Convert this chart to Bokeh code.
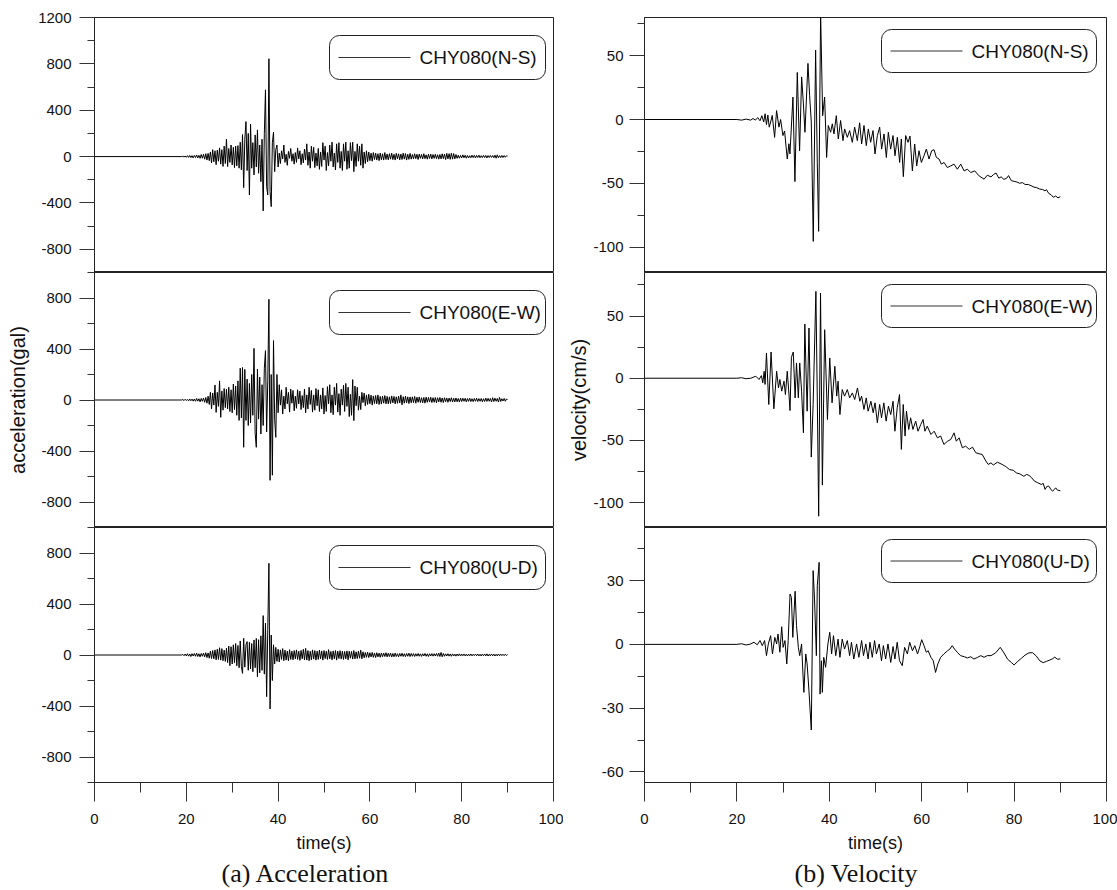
from bokeh.plotting import figure
from bokeh.layouts import row, column
from bokeh.models import (FixedTicker, Range1d, BoxAnnotation, Label, Title,
                          PrintfTickFormatter)
from bokeh.embed import file_html
from bokeh.resources import INLINE

# ---------------------------------------------------------------- data
# acceleration records (gal), sampled every ACC_DT seconds from ACC_T0
ACC_T0 = 19.0
ACC_DT = 0.25

acc_ns = [
    0, 3, -4, 5, -6, 8, -7, 10, -9, 8, -12, 10, -8, 14, -12, 11, -15, 18, -14, 20,
    -22, 25, -30, 28, -35, 40, -55, 60, -45, 50, -70, 55, -40, 75, -65, 60, -85, 90, -60, 150,
    -86, 70, -50, 100, -72, 80, -95, 90, -80, 95, -100, 124, -115, 190, -268, 150, 302, -120, 200, -331,
    279, -100, 120, -158, 187, -90, 230, -144, 100, -216, 150, -469, 200, 576, -259, -331, 844, -300, -432, 120,
    210, -130, 60, 100, -90, 30, -60, 50, -20, 100, -50, 20, -75, 45, -15, 70, -40, 25, -65, 35,
    -50, 75, -20, 50, -70, 25, -55, 65, -30, 110, -75, 40, -100, 90, -40, 80, -95, 30, -80, 70,
    -110, 40, -85, 120, -30, 90, -120, 35, -80, 100, -40, 125, -90, 30, -115, 110, -50, 120, -100, 45,
    -120, 110, -40, 125, -110, 50, -100, 120, -35, 125, -130, 45, -85, 110, -40, 90, -75, 110, -100, 40,
    -60, 50, -45, 40, -35, 30, -40, 35, -25, 30, -30, 25, -35, 30, -28, 24, -30, 35, -25, 22,
    -28, 25, -22, 30, -26, 20, -30, 28, -20, 24, -28, 22, -25, 30, -22, 26, -30, 20, -24, 28,
    -22, 18, -20, 24, -18, 20, -25, 22, -15, 18, -20, 25, -18, 15, -22, 20, -16, 22, -20, 18,
    -15, 20, -18, 16, -22, 18, -20, 24, -18, 22, -26, 28, -20, 25, -24, 30, -22, 26, -20, 18,
    -15, 12, -14, 10, -12, 15, -10, 12, -14, 10, -12, 8, -10, 12, -9, 11, -12, 10, -8, 12,
    -10, 8, -9, 11, -8, 10, -12, 9, -8, 10, -7, 9, -10, 12, -14, 15, -10, 8, -9, 10,
    -8, 9, -6, 7, 5,
]

acc_ew = [
    0, 4, -5, 6, -4, 5, -7, 8, -6, 7, -9, 8, -10, 12, -9, 10, -14, 12, -10, 15,
    -18, 20, -25, 30, -35, 60, -70, 55, -40, 118, -97, 60, -50, 150, -136, 70, -80, 90, -60, 85,
    -70, 100, -90, 80, -100, 125, -75, 110, -120, 150, -160, 250, -140, 255, -371, 240, -160, 164, -200, 130,
    -180, 200, -120, 405, -260, -371, 243, -150, 180, -267, 120, -200, 250, 387, -250, 150, 790, -630, 200, -590,
    466, -150, -293, 200, -100, 120, -40, 80, -110, 30, -70, 100, -30, 60, -95, 86, -25, 75, -85, 30,
    -65, 80, -30, 70, -75, 35, -60, 85, -100, 40, -70, 100, -35, 75, -95, 40, -80, 90, -45, 80,
    -90, 40, -70, 95, -110, 35, -90, 105, -30, 120, -100, 40, -115, 100, -40, 130, -95, 50, -120, 85,
    -40, 115, -90, 130, -50, 100, -130, 45, -120, 160, -162, 110, -45, 100, -80, 30, -75, 60, -20, 55,
    -45, 40, -35, 45, -30, 38, -40, 32, -28, 35, -30, 40, -35, 28, -32, 30, -25, 35, -30, 28,
    -30, 25, -28, 32, -22, 28, -30, 25, -26, 30, -24, 40, -38, 26, -25, 30, -22, 25, -28, 24,
    -22, 25, -20, 28, -25, 22, -18, 24, -20, 18, -22, 20, -25, 22, -18, 20, -16, 22, -20, 18,
    -18, 20, -22, 18, -15, 20, -18, 16, -20, 18, -14, 16, -18, 15, -12, 18, -16, 14, -15, 16,
    -14, 12, -16, 15, -12, 14, -10, 13, -15, 12, -11, 14, -12, 10, -13, 12, -10, 14, -12, 11,
    -10, 12, -14, 10, -12, 15, -11, 13, -10, 12, -15, 18, -12, 14, -10, 12, -16, 20, -12, 10,
    -8, 12, -10, 8, 4,
]

acc_ud = [
    0, 5, -6, 8, -7, 10, -9, 8, -12, 10, -8, 12, -10, 14, -12, 10, -15, 12, -10, 15,
    -14, 18, -20, 16, -25, 30, -28, 35, -30, 40, -38, 45, -35, 57, -40, 50, -45, 38, -50, 55,
    -60, 70, -84, 65, -70, 80, -60, 90, -85, 75, -100, 110, -90, -144, 131, -95, 80, 105, -120, 100,
    -110, 90, -131, 118, -100, 130, -170, 120, -140, 150, -120, 309, -150, 250, -327, 200, 719, -423, 157, -200,
    80, -70, 60, -50, 45, -55, 40, -35, 50, -45, 38, -40, 30, -45, 42, -35, 30, -38, 35, -30,
    40, -35, 30, -42, 36, -30, 45, -38, 52, -40, 35, -45, 30, -38, 40, -32, 35, -40, 30, -35,
    38, -30, 32, -40, 35, -28, 30, -35, 42, -30, 28, -38, 32, -30, 35, -40, 30, -28, 34, -32,
    30, -35, 28, -30, 32, -38, 30, -25, 28, -32, 35, -30, 25, -28, 30, -25, 38, -30, 25, -22,
    20, -18, 22, -20, 18, -15, 20, -18, 16, -20, 18, -15, 14, -18, 16, -14, 15, -12, 18, -15,
    14, -12, 15, -16, 12, -14, 15, -12, 10, -14, 12, -10, 14, -12, 10, -13, 12, -10, 14, -12,
    12, -10, 11, -12, 10, -9, 12, -10, 9, -11, 10, -8, 12, -10, 9, -12, 10, -8, 11, -9,
    10, -8, 12, -10, 15, -12, 20, -14, 12, -10, 9, -8, 10, -9, 8, -10, 9, -8, 7, -9,
    8, -7, 9, -8, 7, -6, 8, -7, 6, -8, 7, -6, 8, -7, 6, -5, 7, -6, 8, -7,
    6, -8, 7, -6, 8, -7, 9, -8, 6, -7, 8, -6, 7, -8, 6, -7, 8, -6, 7, -5,
    6, -5, 7, -4, 3,
]

# velocity records (cm/s): turning points (time, value)
vel_ns_t = [0, 20, 21, 22, 23, 23.5, 24, 24.5, 25, 25.4, 25.8, 26.1, 26.4, 26.7, 27.0, 27.3,
            27.65, 28.16, 28.59, 29.10, 29.46, 29.96, 30.32, 30.90, 31.26, 31.48,
            32.13, 32.56, 33.07, 33.57, 34.01, 34.37, 34.73, 35.38, 35.74, 36.10,
            36.53, 37.04, 37.40, 37.69, 38.12, 38.56, 38.99, 39.42, 39.78, 40.29,
            40.65, 41.01, 41.52, 41.95, 42.45, 42.96, 43.32, 43.90, 44.40, 44.98,
            45.49, 46.06, 46.57, 47.0, 47.51, 48.01, 48.45, 48.95, 49.46, 49.89,
            50.40, 50.90, 51.33, 51.84, 52.35, 52.78, 53.28, 53.79, 54.22, 54.73,
            55.23, 55.59, 56.03, 56.53, 57.04, 57.47, 57.98, 58.48, 58.92, 59.42,
            59.93, 60.50, 61.01, 61.59, 62.16, 62.67, 63.18, 63.75, 64.26, 64.84,
            65.56, 66.28, 67.0, 67.72, 68.45, 69.17, 69.89, 70.61, 71.48, 72.42,
            73.5, 74.2, 75.0, 75.6, 76.1, 76.7, 77.2, 77.8, 78.4, 78.8,
            79.4, 80.0, 80.6, 81.2, 81.8, 82.4, 83.1, 83.7, 84.3, 84.9,
            85.5, 86.2, 86.7, 87.0, 87.5, 88.0, 88.5, 89.0, 89.5, 90.0]
vel_ns = [0, 0, -0.5, 0.3, -0.5, 0.8, -0.5, 1.5, -1, 3, -2, 4.5, -4, 3.5, -6, -2,
          3.2, -14, 7, -6, 0, -12.6, -9, -31, -19, -27,
          17.6, -48.7, 36.9, -24.5, 33.4, 13.7, -10, 44, 19, -2,
          -95.6, 54.5, -34, -87.7, 84, 3, 17.6, -29.8, -4.7, -10,
          -3.4, -11.3, 3, -15.3, -0.8, -16.6, -7.4, -14, -8.7, -17.9,
          -6, -16.6, -2.6, -19.2, -4.7, -20.5, -7.4, -17.9, -8.7, -27,
          -12.6, -6, -23.2, -11.3, -29.8, -10, -23.2, -12.6, -28.4, -14,
          -33.7, -15.3, -44.8, -12.6, -17.9, -13, -40.3, -19.2, -36.4, -24.5,
          -33.7, -28.4, -23.2, -31, -24.5, -23.7, -29.8, -31, -35, -33.7,
          -37.7, -36.4, -35, -39, -35, -40.3, -39, -41.6, -40.3, -44.2,
          -46.8, -43.7, -45, -43, -42, -46, -45, -47, -46, -44,
          -48, -48.5, -49, -50, -49.5, -51, -51, -52, -53, -53.5,
          -54.5, -55, -56, -55, -58, -59, -61, -60, -61.5, -60.5]

vel_ew_t = [0, 20, 21, 22, 23.0, 24.1, 24.8, 25.3, 25.6, 25.9,
            26.1, 26.4, 26.9, 27.4, 28.0, 28.6, 29.0, 29.3, 29.7, 30.2,
            30.5, 30.9, 31.3, 31.5, 31.8, 32.2, 32.6, 32.9, 33.3, 33.6,
            34.0, 34.4, 34.7, 35.2, 35.6, 36.1, 36.5, 37.1, 37.4, 37.7,
            38.1, 38.5, 39.0, 39.6, 40.1, 40.6, 41.2, 41.6, 41.9, 42.3,
            42.8, 43.3, 43.9, 44.4, 45.0, 45.5, 46.1, 46.6, 47.0, 47.5,
            48.0, 48.4, 49.0, 49.5, 49.9, 50.4, 50.9, 51.3, 51.8, 52.3,
            52.8, 53.3, 53.8, 54.2, 54.7, 55.2, 55.6, 56.0, 56.4, 56.7,
            57.2, 57.6, 58.1, 58.7, 59.2, 59.8, 60.3, 60.7, 61.2, 62.0,
            62.7, 63.4, 64.1, 64.8, 65.6, 66.3, 67.0, 67.5, 68.1, 68.8,
            69.5, 70.3, 71.0, 71.7, 72.4, 73.1, 73.9, 74.4, 75.0, 75.5,
            76.4, 77.4, 78.2, 79.0, 79.8, 80.5, 81.3, 82.1, 82.7, 83.2,
            83.8, 84.4, 85.1, 85.9, 86.3, 86.7, 87.1, 87.5, 87.9, 88.3,
            88.7, 89.0, 89.4, 89.7, 90.0]
vel_ew = [0, 0, 0.4, -0.4, 0, 1.6, -1, 2.1, -3.7, 5.6,
          -5, 20.3, -21.1, 21.1, -24.6, 5.6, -7.8, -1, -10.4, -2.4,
          -13.1, 5.6, -14.4, -26, 16.8, 21.1, -15.8, 12.3, -15.8, 12.3,
          -10.4, -43.9, 43.6, -26.5, 40.4, -63.4, -21.1, 69.8, -15.8, -110.9,
          68.5, -85.9, 39, -33.2, 16.3, -19.8, 9.6, -14.4, -2.4, -29.2,
          -9.1, -14.4, -9.1, -15.8, -11.8, -17.1, -7.8, -18.5, -14.4, -25.1,
          -15.8, -26.5, -18.5, -27.8, -19.8, -35.8, -21.1, -31.8, -19.8, -34.5,
          -22.5, -29.2, -18.5, -42.6, -23.8, -13.1, -57.2, -21.1, -46.5, -26.5,
          -41.2, -31.8, -41.2, -34.5, -42.6, -37.2, -33.2, -42.6, -38.5, -45.2,
          -42.6, -47.9, -46.5, -53.2, -50.6, -49.2, -43.9, -50.6, -47.9, -55.9,
          -54.6, -57.2, -55.4, -59.9, -60.7, -61.3, -66.6, -69.3, -68, -69.8,
          -67.5, -69.3, -71, -73.4, -74, -76.1, -77, -78.8, -77.4, -78,
          -80, -82.7, -84, -85.4, -84.5, -89.4, -87, -86.7, -89, -90.8,
          -89.5, -88.1, -90, -90.2, -90.5]

vel_ud_t = [0, 20, 21, 22, 23.0, 23.7, 24.4, 25.0, 25.5, 26.0,
            26.4, 26.8, 27.3, 27.7, 28.2, 28.6, 28.9, 29.3, 29.7, 30.0,
            30.4, 30.8, 31.1, 31.5, 31.8, 32.1, 32.6, 32.9, 33.3, 33.6,
            34.0, 34.3, 34.5, 34.9, 35.2, 35.6, 36.1, 36.5, 36.8, 37.2,
            37.4, 37.8, 38.0, 38.3, 38.5, 38.8, 39.2, 39.7, 40.1, 40.5,
            40.9, 41.4, 41.9, 42.3, 42.8, 43.3, 43.9, 44.4, 44.8, 45.3,
            45.9, 46.4, 47.0, 47.4, 47.9, 48.4, 48.8, 49.3, 49.8, 50.2,
            50.8, 51.3, 51.7, 52.2, 52.7, 53.3, 53.8, 54.2, 54.7, 55.2,
            55.8, 56.3, 56.9, 57.4, 58.0, 58.5, 59.1, 59.6, 60.0, 60.5,
            61.0, 61.4, 62.0, 62.5, 63.0, 63.5, 64.1, 64.8, 65.6, 66.1,
            66.6, 67.1, 67.7, 68.4, 69.2, 69.9, 70.6, 71.3, 72.1, 72.8,
            73.5, 74.2, 75.0, 76.0, 77.0, 77.8, 78.6, 79.4, 80.0, 80.8,
            81.6, 82.4, 83.2, 84.0, 84.8, 85.6, 86.3, 87.0, 87.6, 88.3,
            88.8, 89.4, 90.0]
vel_ud = [0, 0, 0.3, -0.3, 0.2, 1, -0.2, 1.8, -0.6, 1.8,
          -5.3, 0.2, 4.1, -4.5, 3.3, 0.2, 4.9, -3.7, 8.3, -1.4,
          1.8, -9.2, 1.8, 23.7, 22.1, 3.3, 25, 8.8, -1.4, -5.3,
          0.2, -14, -22.6, -4.5, -9.2, -21.9, -40.3, 34.7, 21.4, -5.3,
          27.6, 38.6, -23.4, -7.7, -22.6, -6.1, -10.8, 0.2, 5.7, -4.5,
          4.1, -5.3, 2.5, -6.1, 2.5, -2.2, 1.8, -5.3, 1, -6.9,
          0.2, -6.1, 1.8, -5.3, 0.2, -6.9, 1, -6.1, 1.8, -4.5,
          0.2, -7.7, -0.6, -6.9, 0.2, -8.5, -1, -6.9, 1, -7.7,
          -10, -1.4, -4.5, 1, -3, -0.6, -4.5, -1, 2.2, -0.6,
          -3.7, -3, -6.1, -7.7, -13.2, -9.2, -6.1, -4.5, -3, -2.2,
          -0.6, -2.2, -3.7, -5.3, -5.8, -6.4, -5.8, -6.9, -6.1, -5.3,
          -6.1, -5.3, -5.3, -4, -1.4, -4, -7, -8.5, -9.7, -8,
          -6.5, -5, -4, -3.9, -5.5, -7.8, -8.6, -8, -7.5, -6.8,
          -6, -7, -6.8]

station_labels = ["CHY080(N-S)", "CHY080(E-W)", "CHY080(U-D)"]

x_ticks = [0, 20, 40, 60, 80, 100]
x_minor = [10, 30, 50, 70, 90]

acc_ranges = [(-1000, 1200), (-1000, 1000), (-1000, 1000)]
acc_ticks = [[-800, -400, 0, 400, 800, 1200], [-800, -400, 0, 400, 800], [-800, -400, 0, 400, 800]]
acc_minor = [-1000, -600, -200, 200, 600, 1000]

vel_ranges = [(-120, 80), (-120, 85), (-65, 55)]
vel_ticks = [[-100, -50, 0, 50], [-100, -50, 0, 50], [-60, -30, 0, 30]]
vel_minor = [[-75, -25, 25, 75], [-75, -25, 25, 75], [-45, -15, 15, 45]]

# ---------------------------------------------------------------- layout
FONT = "Liberation Sans"
SERIF = "Liberation Serif"
FRAME_H = 255
TOP_PAD = 17
BOTTOM_PAD = 107
COLS = [
    dict(bl=94, fw=459, br=10, box_l=235, box_w=216, box_t=18, box_h=44,
         ylabel="acceleration(gal)", ylab_standoff=9, tick_standoff=8,
         caption="(a) Acceleration", cap_off=127),
    dict(bl=81, fw=462, br=11, box_l=237, box_w=215, box_t=12, box_h=43,
         ylabel="velocity(cm/s)", ylab_standoff=0, tick_standoff=6,
         caption="(b) Velocity", cap_off=150),
]


def panel(ci, ri, t, v, yr, ticks, minor, name):
    c = COLS[ci]
    top = TOP_PAD if ri == 0 else 0
    bottom = BOTTOM_PAD if ri == 2 else 0
    p = figure(width=c["bl"] + c["fw"] + c["br"], height=FRAME_H + top + bottom,
               x_range=Range1d(0, 100), y_range=Range1d(*yr),
               x_axis_location="below" if ri == 2 else None,
               output_backend="svg", toolbar_location=None,
               min_border_left=c["bl"], min_border_right=c["br"],
               min_border_top=top, min_border_bottom=bottom)
    p.xgrid.visible = False
    p.ygrid.visible = False
    p.outline_line_color = "#222222"
    p.outline_line_width = 1
    p.background_fill_color = "white"
    p.border_fill_color = "white"

    ya = p.yaxis[0]
    ya.ticker = FixedTicker(ticks=ticks, minor_ticks=minor)
    ya.formatter = PrintfTickFormatter(format="%d")
    ya.major_tick_out = 15
    ya.major_tick_in = 0
    ya.minor_tick_out = 7
    ya.minor_tick_in = 0
    ya.major_label_standoff = c["tick_standoff"]
    ya.major_label_text_font = FONT
    ya.major_label_text_font_size = "15px"
    ya.major_label_text_color = "#111111"
    ya.axis_line_color = "#222222"
    ya.major_tick_line_color = "#333333"
    ya.minor_tick_line_color = "#333333"
    if ri == 1:
        ya.axis_label = c["ylabel"]
        ya.axis_label_text_font = FONT
        ya.axis_label_text_font_size = "20px"
        ya.axis_label_text_font_style = "normal"
        ya.axis_label_text_color = "#111111"
        ya.axis_label_standoff = c["ylab_standoff"]

    if ri == 2:
        xa = p.xaxis[0]
        xa.ticker = FixedTicker(ticks=x_ticks, minor_ticks=x_minor)
        xa.formatter = PrintfTickFormatter(format="%d")
        xa.major_tick_out = 19
        xa.major_tick_in = 0
        xa.minor_tick_out = 10
        xa.minor_tick_in = 0
        xa.major_label_standoff = 12
        xa.major_label_text_font = FONT
        xa.major_label_text_font_size = "15px"
        xa.major_label_text_color = "#111111"
        xa.axis_line_color = "#222222"
        xa.major_tick_line_color = "#333333"
        xa.minor_tick_line_color = "#333333"
        xa.axis_label = "time(s)"
        xa.axis_label_text_font = FONT
        xa.axis_label_text_font_size = "18px"
        xa.axis_label_text_font_style = "normal"
        xa.axis_label_text_color = "#111111"
        xa.axis_label_standoff = 6
        p.add_layout(Title(text=c["caption"], align="left", offset=c["cap_off"],
                           text_font=SERIF, text_font_size="26px",
                           text_font_style="normal", text_color="#111111",
                           standoff=3), "below")

    p.line(t, v, line_color="#000000", line_width=1)

    # rounded legend box, placed in frame pixels converted to data units
    def fx(px):
        return 100.0 * px / c["fw"]

    def fy(py):
        return yr[1] - (yr[1] - yr[0]) * py / FRAME_H

    bl_, bt = c["box_l"], c["box_t"]
    p.add_layout(BoxAnnotation(left=fx(bl_), right=fx(bl_ + c["box_w"]),
                               top=fy(bt), bottom=fy(bt + c["box_h"]),
                               border_radius=10, fill_color="white", fill_alpha=1.0,
                               line_color="#222222", line_width=1, line_alpha=1.0))
    cy = fy(bt + c["box_h"] / 2.0)
    p.segment(x0=[fx(bl_ + 9)], y0=[cy], x1=[fx(bl_ + 81)], y1=[cy],
              line_color="#333333", line_width=1, level="overlay")
    p.add_layout(Label(x=fx(bl_ + 90), y=cy, text=name, text_font=FONT,
                       text_font_size="19px", text_baseline="middle",
                       text_align="left", text_color="#111111"))
    return p


def acc_series(vals):
    t = [0.0] + [ACC_T0 + i * ACC_DT for i in range(len(vals))]
    return t, [0] + list(vals)


acc_data = [acc_series(acc_ns), acc_series(acc_ew), acc_series(acc_ud)]
vel_data = [(vel_ns_t, vel_ns), (vel_ew_t, vel_ew), (vel_ud_t, vel_ud)]

left = [panel(0, i, acc_data[i][0], acc_data[i][1], acc_ranges[i], acc_ticks[i],
              acc_minor, station_labels[i]) for i in range(3)]
right = [panel(1, i, vel_data[i][0], vel_data[i][1], vel_ranges[i], vel_ticks[i],
               vel_minor[i], station_labels[i]) for i in range(3)]

layout = row(column(*left, spacing=0), column(*right, spacing=0), spacing=0)

open("out.html", "w").write(file_html(layout, INLINE))
